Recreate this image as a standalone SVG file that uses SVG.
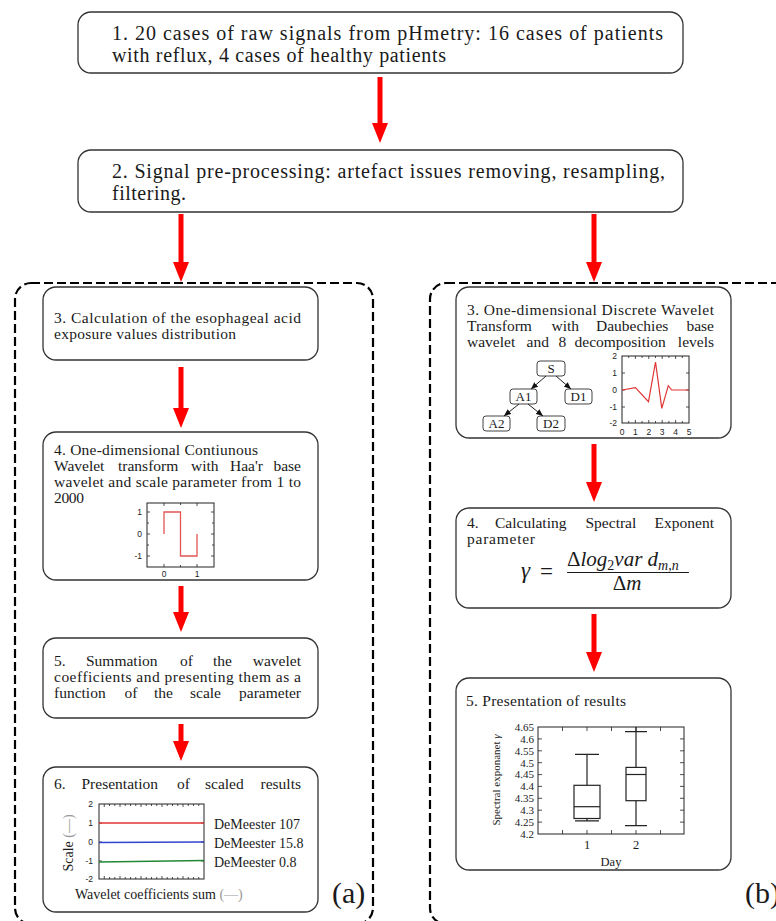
<svg xmlns="http://www.w3.org/2000/svg" width="776" height="921" viewBox="0 0 776 921">
<defs>
<marker id="rh" markerUnits="userSpaceOnUse" markerWidth="20" markerHeight="16" viewBox="0 0 20 16" refX="2" refY="8" orient="auto"><path d="M0,0 L20,8 L0,16 z" fill="#ff0000"/></marker>
<marker id="bh" markerUnits="userSpaceOnUse" markerWidth="7" markerHeight="6" viewBox="0 0 7 6" refX="7" refY="3" orient="auto"><path d="M0,0 L7,3 L0,6 z" fill="#111"/></marker>
<style>
.box{fill:#fff;stroke:#333;stroke-width:1.3}
.nb{fill:#fff;stroke:#444;stroke-width:1}
.dash{fill:none;stroke:#000;stroke-width:2.2;stroke-dasharray:9 4}
.t{font-family:'Liberation Serif','DejaVu Serif',serif;fill:#1a1a1a}
.t19{font-size:20px}
.t15{font-size:15.5px}
.arr{stroke:#ff0000;stroke-width:5;marker-end:url(#rh)}
.ax{fill:none;stroke:#222;stroke-width:1}
.tick{stroke:#222;stroke-width:0.8}
.tk{font-family:'Liberation Sans','DejaVu Sans',sans-serif;font-size:8.5px;fill:#222}
.tl{stroke:#222;stroke-width:1;marker-end:url(#bh)}
.e{text-anchor:end}
.m{text-anchor:middle}
.g{fill:#999}
</style>
</defs>

<g id="containers">
<rect class="dash" x="15" y="283" width="358" height="641" rx="16"/>
<rect class="dash" x="430" y="283" width="362" height="641" rx="16"/>
</g>

<g id="connectors">
<line class="arr" x1="380" y1="77" x2="380" y2="125"/>
<line class="arr" x1="181" y1="214" x2="181" y2="264"/>
<line class="arr" x1="594" y1="214" x2="594" y2="264"/>
<line class="arr" x1="181" y1="367" x2="181" y2="410"/>
<line class="arr" x1="181" y1="586" x2="181" y2="614"/>
<line class="arr" x1="181" y1="724" x2="181" y2="743"/>
<line class="arr" x1="594" y1="444" x2="594" y2="484"/>
<line class="arr" x1="594" y1="614" x2="594" y2="654"/>
</g>

<g id="n1">
<rect class="box" x="78" y="12" width="605" height="61" rx="13"/>
<text class="t t19" x="112" y="40" textLength="551" lengthAdjust="spacing">1. 20 cases of raw signals from pHmetry: 16 cases of patients</text>
<text class="t t19" x="112" y="62" textLength="334" lengthAdjust="spacing">with reflux, 4 cases of healthy patients</text>
</g>

<g id="n2">
<rect class="box" x="78" y="150" width="605" height="62" rx="13"/>
<text class="t t19" x="112" y="178" textLength="553" lengthAdjust="spacing">2. Signal pre-processing: artefact issues removing, resampling,</text>
<text class="t t19" x="112" y="200" textLength="74" lengthAdjust="spacing">filtering.</text>
</g>

<g id="a3">
<rect class="box" x="43" y="287" width="275" height="73" rx="13"/>
<text class="t t15" x="54" y="323" textLength="247" lengthAdjust="spacing">3. Calculation of the esophageal acid</text>
<text class="t t15" x="54" y="339" textLength="182" lengthAdjust="spacing">exposure values distribution</text>
</g>

<g id="a4">
<rect class="box" x="43" y="432" width="275" height="148" rx="13"/>
<text class="t t15" x="54" y="455" textLength="204" lengthAdjust="spacing">4. One-dimensional Contiunous</text>
<text class="t t15" y="471"><tspan x="54">Wavelet</tspan><tspan x="118">transform</tspan><tspan x="191">with</tspan><tspan x="230">Haa'r</tspan></text>
<text class="t t15 e" x="301" y="471">base</text>
<text class="t t15" x="54" y="487" textLength="247" lengthAdjust="spacing">wavelet and scale parameter from 1 to</text>
<text class="t t15" x="54" y="503" textLength="30" lengthAdjust="spacing">2000</text>
<rect class="ax" x="147" y="503" width="67" height="64"/>
<path class="tick" d="M147,512h3M147,523h2M147,534h3M147,545h2M147,556h3M214,512h-3M214,523h-2M214,534h-3M214,545h-2M214,556h-3M164,503v3M180.5,503v2M197,503v3M164,567v-3M180.5,567v-2M197,567v-3"/>
<text class="tk e" x="142" y="515">1</text>
<text class="tk e" x="142" y="537">0</text>
<text class="tk e" x="142" y="559">-1</text>
<text class="tk m" x="164" y="577">0</text>
<text class="tk m" x="197" y="577">1</text>
<path d="M164,534V512H180.5V556H197V534" fill="none" stroke="#e05555" stroke-width="1.3"/>
</g>

<g id="a5">
<rect class="box" x="43" y="638" width="275" height="80" rx="13"/>
<text class="t t15" y="666"><tspan x="54">5.</tspan><tspan x="86">Summation</tspan><tspan x="180">of</tspan><tspan x="213">the</tspan></text>
<text class="t t15 e" x="301" y="666">wavelet</text>
<text class="t t15" x="54" y="682" textLength="247" lengthAdjust="spacing">coefficients and presenting them as a</text>
<text class="t t15" y="698"><tspan x="54">function</tspan><tspan x="124.5">of</tspan><tspan x="154">the</tspan><tspan x="190">scale</tspan></text>
<text class="t t15 e" x="301" y="698">parameter</text>
</g>

<g id="a6">
<rect class="box" x="43" y="767" width="275" height="145" rx="13"/>
<text class="t t15" y="789"><tspan x="54">6.</tspan><tspan x="81.5">Presentation</tspan><tspan x="177">of</tspan><tspan x="205">scaled</tspan></text>
<text class="t t15 e" x="301" y="789">results</text>
<rect class="ax" x="99" y="804" width="105" height="75"/>
<path class="tick" d="M104.25,804v3M109.5,804v2M114.75,804v2M120,804v3M125.25,804v2M130.5,804v2M135.75,804v2M141,804v3M146.25,804v2M151.5,804v2M156.75,804v2M162,804v3M167.25,804v2M172.5,804v2M177.75,804v2M183,804v3M188.25,804v2M193.5,804v2M198.75,804v2M104.25,879v-3M109.5,879v-2M114.75,879v-2M120,879v-3M125.25,879v-2M130.5,879v-2M135.75,879v-2M141,879v-3M146.25,879v-2M151.5,879v-2M156.75,879v-2M162,879v-3M167.25,879v-2M172.5,879v-2M177.75,879v-2M183,879v-3M188.25,879v-2M193.5,879v-2M198.75,879v-2M99,823h3M99,842h3M99,861h3M204,823h-3M204,842h-3M204,861h-3"/>
<text class="tk e" x="93" y="807">2</text>
<text class="tk e" x="93" y="826">1</text>
<text class="tk e" x="93" y="845">0</text>
<text class="tk e" x="93" y="864">-1</text>
<text class="tk e" x="93" y="882">-2</text>
<line x1="99" y1="823" x2="204" y2="823" stroke="#e03535" stroke-width="1.3"/>
<line x1="99" y1="842.5" x2="204" y2="842" stroke="#3344cc" stroke-width="1.5"/>
<line x1="99" y1="862" x2="204" y2="860.5" stroke="#228833" stroke-width="1.5"/>
<text class="t" font-size="14" x="214" y="829">DeMeester 107</text>
<text class="t" font-size="14" x="214" y="848">DeMeester 15.8</text>
<text class="t" font-size="14" x="214" y="867">DeMeester 0.8</text>
<text class="t m" font-size="14" transform="translate(73,843) rotate(-90)">Scale <tspan class="g">(—)</tspan></text>
<text class="t" font-size="14" x="75" y="899">Wavelet coefficients sum <tspan class="g">(—)</tspan></text>
<text class="t" font-size="30" x="332" y="903">(a)</text>
</g>

<g id="b3">
<rect class="box" x="456" y="287" width="275" height="151" rx="13"/>
<text class="t t15" x="467" y="315" textLength="247" lengthAdjust="spacing">3. One-dimensional Discrete Wavelet</text>
<text class="t t15" y="331"><tspan x="467">Transform</tspan><tspan x="551.5">with</tspan><tspan x="596">Daubechies</tspan></text>
<text class="t t15 e" x="714" y="331">base</text>
<text class="t t15" y="347"><tspan x="467">wavelet</tspan><tspan x="526.5">and</tspan><tspan x="558.5">8</tspan><tspan x="574.5">decomposition</tspan></text>
<text class="t t15 e" x="714" y="347">levels</text>
<rect class="nb" x="537" y="361" width="28" height="15" rx="3"/>
<rect class="nb" x="510" y="389" width="27" height="15" rx="3"/>
<rect class="nb" x="565" y="389" width="27" height="15" rx="3"/>
<rect class="nb" x="483" y="416" width="27" height="15" rx="3"/>
<rect class="nb" x="537" y="416" width="28" height="15" rx="3"/>
<text class="t m" font-size="13" x="551" y="373">S</text>
<text class="t m" font-size="13" x="523.5" y="401">A1</text>
<text class="t m" font-size="13" x="578.5" y="401">D1</text>
<text class="t m" font-size="13" x="496.5" y="428">A2</text>
<text class="t m" font-size="13" x="551" y="428">D2</text>
<line class="tl" x1="546" y1="376" x2="531" y2="389"/>
<line class="tl" x1="556" y1="376" x2="571" y2="389"/>
<line class="tl" x1="519" y1="404" x2="504" y2="416"/>
<line class="tl" x1="528" y1="404" x2="543" y2="416"/>
<rect class="ax" x="622" y="356" width="67" height="67"/>
<path class="tick" d="M622,373h3M622,390h3M622,407h3M689,373h-3M689,390h-3M689,407h-3M635.4,356v3M648.8,356v3M662.2,356v3M675.6,356v3M628.7,356v2M642.1,356v2M655.5,356v2M668.9,356v2M682.3,356v2M635.4,423v-3M648.8,423v-3M662.2,423v-3M675.6,423v-3M628.7,423v-2M642.1,423v-2M655.5,423v-2M668.9,423v-2M682.3,423v-2"/>
<text class="tk e" x="617" y="359">2</text>
<text class="tk e" x="617" y="376">1</text>
<text class="tk e" x="617" y="393">0</text>
<text class="tk e" x="617" y="410">-1</text>
<text class="tk e" x="617" y="426">-2</text>
<text class="tk m" x="622" y="435">0</text>
<text class="tk m" x="635.4" y="435">1</text>
<text class="tk m" x="648.8" y="435">2</text>
<text class="tk m" x="662.2" y="435">3</text>
<text class="tk m" x="675.6" y="435">4</text>
<text class="tk m" x="689" y="435">5</text>
<polyline points="622,390 635.4,387.7 648.5,401.7 655.5,362 661.8,408.3 668.3,385.7 671.7,390 689,390" fill="none" stroke="#e03535" stroke-width="1.2"/>
</g>

<g id="b4">
<rect class="box" x="456" y="508" width="275" height="100" rx="13"/>
<text class="t t15" y="528"><tspan x="467">4.</tspan><tspan x="495">Calculating</tspan><tspan x="585.5">Spectral</tspan></text>
<text class="t t15 e" x="714" y="528">Exponent</text>
<text class="t t15" x="467" y="544" textLength="68" lengthAdjust="spacing">parameter</text>
<text class="t" font-size="23" font-style="italic" x="521" y="578">γ</text>
<text class="t" font-size="23" x="540" y="579">=</text>
<text class="t" font-size="21" x="567" y="566">Δ<tspan font-style="italic">log</tspan><tspan font-size="14" dy="4">2</tspan><tspan font-style="italic" dy="-4">var d</tspan><tspan font-size="14" font-style="italic" dy="4">m,n</tspan></text>
<line x1="567" y1="572.5" x2="689" y2="572.5" stroke="#1a1a1a" stroke-width="1"/>
<text class="t m" font-size="21" x="627" y="590">Δ<tspan font-style="italic">m</tspan></text>
</g>

<g id="b5">
<rect class="box" x="456" y="678" width="275" height="192" rx="13"/>
<text class="t t15" x="466" y="706" textLength="160" lengthAdjust="spacing">5. Presentation of results</text>
<rect class="ax" x="538" y="727" width="146" height="107"/>
<path class="tick" d="M538,738.9h4M538,750.8h4M538,762.7h4M538,774.6h4M538,786.4h4M538,798.3h4M538,810.2h4M538,822.1h4M684,738.9h-4M684,750.8h-4M684,762.7h-4M684,774.6h-4M684,786.4h-4M684,798.3h-4M684,810.2h-4M684,822.1h-4M562.5,727v4M587,727v4M611.5,727v4M636,727v4M660.5,727v4M562.5,834v-4M587,834v-4M611.5,834v-4M636,834v-4M660.5,834v-4"/>
<g class="t e" font-size="11">
<text x="534" y="731">4.65</text>
<text x="534" y="743">4.6</text>
<text x="534" y="755">4.55</text>
<text x="534" y="767">4.5</text>
<text x="534" y="778">4.45</text>
<text x="534" y="790">4.4</text>
<text x="534" y="802">4.35</text>
<text x="534" y="814">4.3</text>
<text x="534" y="826">4.25</text>
<text x="534" y="838">4.2</text>
</g>
<text class="t m" font-size="12.5" x="587" y="849">1</text>
<text class="t m" font-size="12.5" x="636" y="849">2</text>
<text class="t m" font-size="12.5" x="611" y="866">Day</text>
<text class="t m" font-size="11" transform="translate(500,780) rotate(-90)">Spectral exponanet <tspan font-style="italic">γ</tspan></text>
<g fill="none" stroke="#222" stroke-width="1.2">
<path d="M587,820.9V818.5M587,785.3V754.3M575,820.9H599M575,754.3H599"/>
<rect x="574" y="785.3" width="26" height="33.2"/>
<path d="M574,806.7H600"/>
<path d="M636,825.7V800.7M636,767.4V727M625,825.7H647M625,731.7H647"/>
<rect x="626" y="767.4" width="20" height="33.3"/>
<path d="M626,774.5H646"/>
</g>
</g>

<g id="label-b">
<text class="t" font-size="30" x="745" y="903">(b)</text>
</g>
</svg>
